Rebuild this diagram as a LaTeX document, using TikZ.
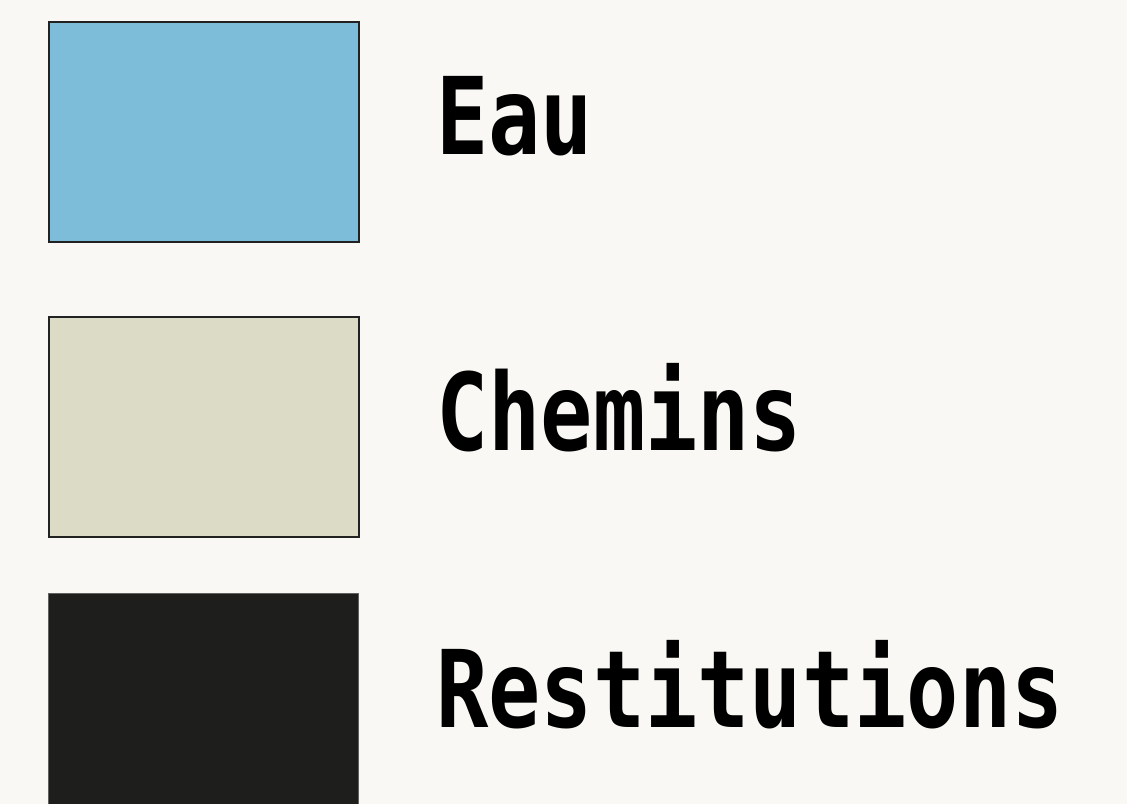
\documentclass[tikz,border=0pt]{standalone}
\usepackage{fontspec}
\usepackage{graphicx}
\usepackage{tikz}
\usetikzlibrary{positioning}
\newfontfamily\legendfont{DejaVu Sans Mono}
\definecolor{paper}{HTML}{F9F8F4}
\definecolor{edge}{HTML}{222222}
\definecolor{water}{HTML}{7DBDD9}
\definecolor{path}{HTML}{DCDBC6}
\definecolor{ink}{HTML}{1E1E1C}
\newcommand{\squeezed}[1]{\scalebox{0.81}[1]{#1}}
\tikzset{
  swatch/.style={rectangle,draw=edge,line width=0.045cm,minimum width=6.2cm,minimum height=4.4cm,inner sep=0pt,anchor=north west},
  legendtext/.style={anchor=base west,inner sep=0pt,text=black,font=\legendfont\bfseries\fontsize{61}{61}\selectfont}
}
\begin{document}
\begin{tikzpicture}
    \useasboundingbox (0,0) rectangle (22.54,-16.08);
    \fill[paper] (0,0) rectangle (22.54,-16.08);

    \node[swatch,fill=water] (eau) at (0.96,-0.42) {};
    \node[swatch,fill=path] (chemins) at (0.96,-6.32) {};
    \node[swatch,fill=ink,draw=ink!70,line width=0.02cm,minimum height=5cm] (restit) at (0.96,-11.86) {};

    \node[legendtext] (eaulabel) at (8.72,-3.10) {\squeezed{Eau}};
    \node[legendtext] (cheminslabel) at (8.72,-9.00) {\squeezed{Chemins}};
    \node[legendtext] (restitlabel) at (8.72,-14.54) {\squeezed{Restitutions}};
  \end{tikzpicture}
\end{document}
